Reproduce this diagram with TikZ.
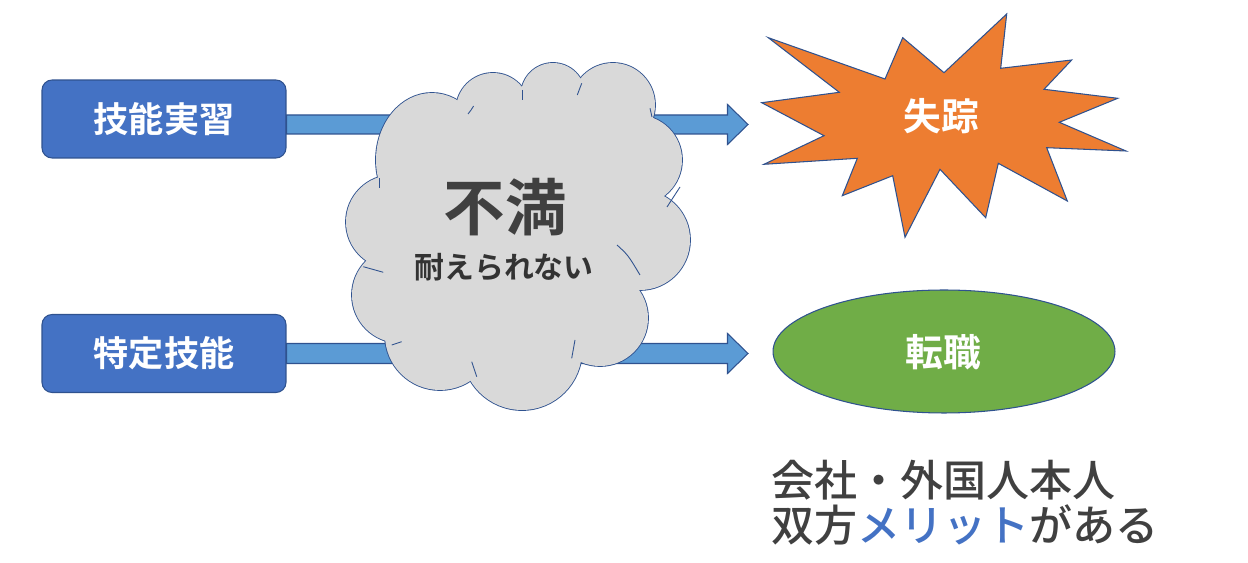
\documentclass[tikz,border=0pt]{standalone}
\usepackage{fontspec}
\setmainfont{Noto Sans CJK JP}[BoldFont={* Bold}]
\newfontfamily\jpmed{Noto Sans CJK JP Medium}
\usetikzlibrary{shapes.geometric,calc}
\definecolor{boxblue}{HTML}{4472C4}
\definecolor{edgeblue}{HTML}{2F528F}
\definecolor{arrowblue}{HTML}{5B9BD5}
\definecolor{cloudgray}{HTML}{D9D9D9}
\definecolor{burst}{HTML}{ED7D31}
\definecolor{leaf}{HTML}{70AD47}
\definecolor{ink}{HTML}{404040}
\tikzset{
  box/.style={draw=edgeblue, line width=0.6pt, fill=boxblue, rounded corners=0.2cm,
    minimum width=4.88cm, minimum height=1.56cm, text=white, font=\fontsize{20}{23}\selectfont\bfseries, inner sep=0pt},
  blockarrow/.style={draw=edgeblue, line width=0.6pt, fill=arrowblue},
  cloudedge/.style={draw=edgeblue, line width=1.0pt},
  tail/.style={draw=edgeblue, line width=0.5pt},
  label/.style={text=white, font=\fontsize{21.5}{24}\selectfont\bfseries, inner sep=0pt},
  note/.style={anchor=west, text=ink, font=\fontsize{24.5}{27}\selectfont\jpmed, inner sep=0pt},
}
\begin{document}
\begin{tikzpicture}[x=0.02cm, y=-0.02cm]
\useasboundingbox (0,0) rectangle (1248,563);
% boxes
\node[box] (b1) at (164,119) {技能実習};
\node[box] (b2) at (164,353.5) {特定技能};
% arrow tips
\coordinate (t1) at (748,124.5);
\coordinate (t2) at (748,353.5);
\draw[blockarrow] (b1.east |- 0,115) -- (727.5,115) -- (727.5,104.5) -- (t1) -- (727.5,144.5) -- (727.5,134) -- (b1.east |- 0,134) -- cycle;
\draw[blockarrow] (b2.east |- 0,343.5) -- (727.5,343.5) -- (727.5,333.5) -- (t2) -- (727.5,373.5) -- (727.5,363.5) -- (b2.east |- 0,363.5) -- cycle;
% cloud
\foreach \cx/\cy/\rx/\ry in {432/160/56/67, 493/110/37/37, 553/95/32/32, 613/105/42/42, 637/160/45/45, 640/240/50/50, 600/318/48/48, 522/350/60/60, 440/335/55/55, 400/295/48/48, 393/222/47/47}{
  \draw[cloudedge] (\cx,\cy) ellipse [x radius=\rx, y radius=\ry];
}
\foreach \cx/\cy/\rx/\ry in {432/160/56/67, 493/110/37/37, 553/95/32/32, 613/105/42/42, 637/160/45/45, 640/240/50/50, 600/318/48/48, 522/350/60/60, 440/335/55/55, 400/295/48/48, 393/222/47/47}{
  \fill[cloudgray] (\cx,\cy) ellipse [x radius=\rx, y radius=\ry];
}
\fill[cloudgray] (420,180) -- (480,115) -- (590,95) -- (640,130) -- (650,240) -- (590,320) -- (450,340) -- (400,290) -- cycle;
% small inner tails of the cloud outline
\draw[tail] (468,114) arc [start angle=40, end angle=30, radius=56];
\draw[tail] (522.7,90) -- (522.7,100);
\draw[tail] (581.7,83.3) -- (577.3,95);
\draw[tail] (650,108.3) -- (652,117);
\draw[tail] (680,187) -- (667,207);
\draw[tail] (617,245) .. controls (628,255) .. (640,275);
\draw[tail] (575,340) -- (571.7,358.3);
\draw[tail] (471.7,361.7) -- (476.7,376.7);
\draw[tail] (391.7,345) -- (401.7,341.7);
\draw[tail] (363.3,266.7) -- (383.3,272.3);
\draw[tail] (379.3,178.3) -- (379.3,188.3);
\node[text=ink, font=\fontsize{35}{38}\selectfont\bfseries, inner sep=0pt] (fu) at (505,207) {不満};
\node[text=ink!80!black, font=\fontsize{17}{20}\selectfont\bfseries, inner sep=0pt] (ta) at (504,267) {耐えられない};
% starburst
\draw[draw=edgeblue, line width=0.6pt, fill=burst]
 (768.3,37.7) -- (885,79) -- (902.7,37.7) -- (944,72.7) -- (1006.7,14) -- (1000.7,68.3)
 -- (1071.7,60) -- (1044,89.3) -- (1117.7,98.3) -- (1059.3,122.3) -- (1126,151)
 -- (1046.7,147.7) -- (1067.3,201) -- (998.3,163.3) -- (985.7,217.7) -- (940,169.3)
 -- (905,237.3) -- (892.7,175.7) -- (842.3,195.7) -- (857.3,158.3) -- (764,164.3)
 -- (824,135.7) -- (761.7,102.7) -- (839.3,92.3) -- cycle;
\node[label] (sh) at (941,116) {失踪};
% ellipse
\node[draw=edgeblue, line width=0.6pt, fill=leaf, ellipse, minimum width=6.84cm, minimum height=2.46cm, inner sep=0pt] (tj) at (944,351.5) {};
\node[label] (tjt) at (943,352) {転職};
% bottom text
\node[note] (m1) at (771,480) {会社・外国人本人};
\node[note] (m2) at (771,525) {双方\textcolor{boxblue}{メリット}がある};
\end{tikzpicture}
\end{document}
